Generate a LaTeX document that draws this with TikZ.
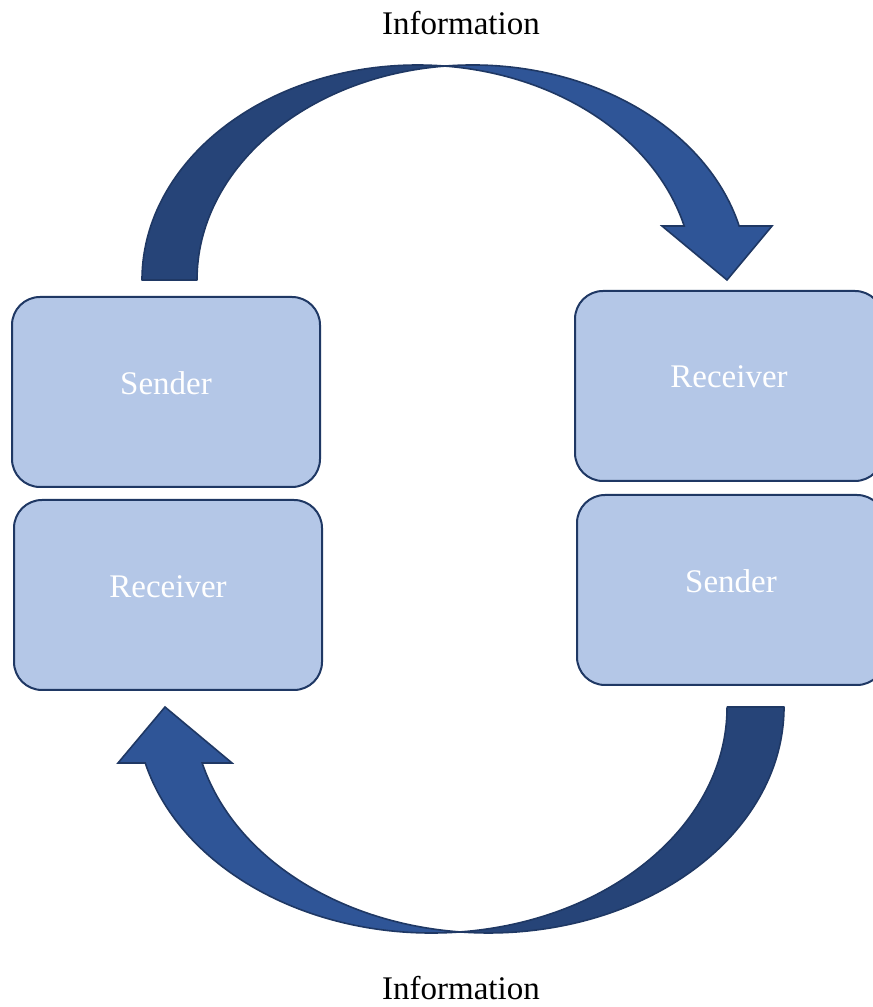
\documentclass[tikz,border=0pt]{standalone}
\usepackage{fontspec}
\setmainfont{Liberation Serif}
\usetikzlibrary{calc}
\definecolor{boxfill}{HTML}{B4C7E7}
\definecolor{navy}{HTML}{1F3864}
\definecolor{darkband}{HTML}{264478}
\definecolor{lightband}{HTML}{2F5597}
\tikzset{
  box/.style={draw=navy, fill=boxfill, line width=2pt, rounded corners=28pt,
    minimum width=308pt, minimum height=190pt, inner sep=0pt},
  boxtext/.style={text=white, font=\fontsize{33}{38}\selectfont},
  info/.style={text=black, font=\fontsize{33}{38}\selectfont, inner sep=0pt},
  backband/.style={fill=darkband, draw=navy, line width=1.6pt, line join=round},
  frontband/.style={fill=lightband, draw=navy, line width=1.6pt, line join=miter},
  ellA/.style={x radius=275.5pt, y radius=215pt},
  ellC/.style={x radius=295.5pt, y radius=226pt}
}
\begin{document}
\begin{tikzpicture}[x=1pt,y=1pt]
\clip (0,0) rectangle (873,1007);
\fill[white] (0,0) rectangle (873,1007);

% boxes
\node[box] (lsend) at (166,615) {};
\node[boxtext] (lsendt) at ($(lsend.center)+(0,9)$) {Sender};
\node[box] (lrec) at (168,412) {};
\node[boxtext] (lrect) at ($(lrec.center)+(0,8)$) {Receiver};
\node[box] (rrec) at (729,621) {};
\node[boxtext] (rrect) at ($(rrec.center)+(0,9)$) {Receiver};
\node[box] (rsend) at (731,417) {};
\node[boxtext] (rsendt) at ($(rsend.center)+(0,9)$) {Sender};

% top curved arrow
\path[backband] (142,727) arc[start angle=180, end angle=84.27, ellA]
  arc[start angle=95.73, end angle=180, ellA] -- cycle;
\path[frontband] (445,940.93) arc[start angle=95.73, end angle=14.55, ellA]
  -- (772,781) -- (727,727) -- (662,781) -- (684.2,781)
  arc[start angle=14.55, end angle=84.27, ellA] -- cycle;

% bottom curved arrow
\path[backband] (784,300) arc[start angle=0, end angle=-95.53, ellC]
  arc[start angle=-84.47, end angle=0, ellC] -- cycle;
\path[frontband] (460,75.05) arc[start angle=-84.47, end angle=-165.65, ellC]
  -- (118,244) -- (165,300) -- (232,244) -- (202.2,244)
  arc[start angle=-165.65, end angle=-95.53, ellC] -- cycle;

% labels
\node[info, anchor=base] (infotop) at (461,972) {Information};
\node[info, anchor=base] (infobot) at (461,7) {Information};
\end{tikzpicture}
\end{document}
